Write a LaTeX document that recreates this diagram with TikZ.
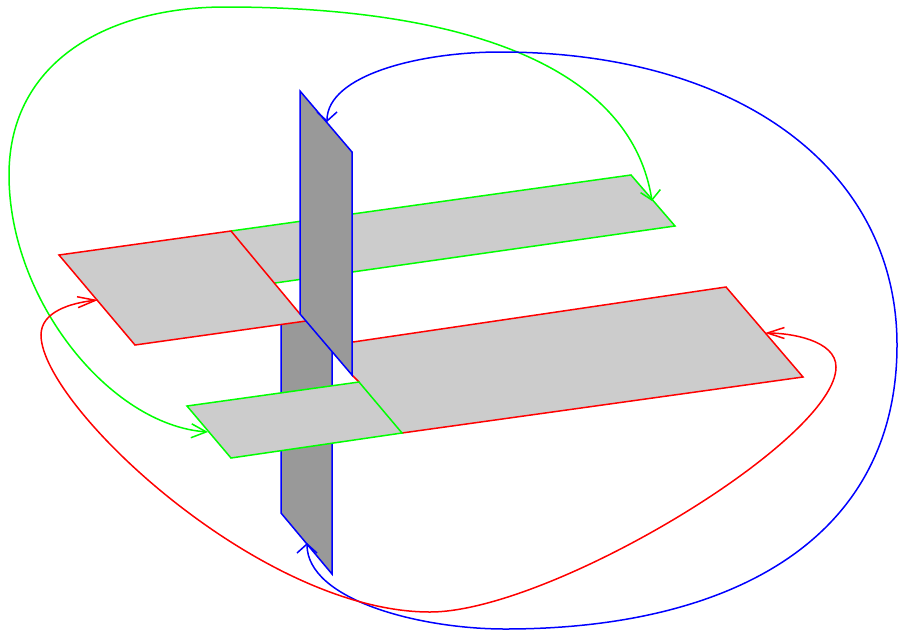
\documentclass[tikz,border=0pt]{standalone}
\usetikzlibrary{arrows.meta}
\definecolor{pure green}{rgb}{0,1,0}
\tikzset{
  planeb/.style={fill=black!40,draw=blue,line width=1.5pt},
  link/.style={line width=1.5pt},
}
\begin{document}
\begin{tikzpicture}[x=1pt,y=-1pt]
\useasboundingbox (0,0) rectangle (901,635);
% anchor points for the connectors
\coordinate (gA) at (208,432);
\coordinate (gB) at (652,201);
\coordinate (bA) at (327,122);
\coordinate (bB) at (307,543);
\coordinate (rA) at (98,300);
\coordinate (rB) at (765,333);
% lower part of the blue plane
\fill[black!40] (281,324) -- (306,320) -- (332,352) -- (332,574) -- (281,513) -- cycle;
\draw[blue,line width=1.5pt] (281,324) -- (281,513) -- (332,574) -- (332,351);
% back green plane
\path[fill=black!20] (231,231) -- (631,175) -- (675,226) -- (275,283) -- cycle;
\draw[pure green,line width=1.5pt] (231,231) -- (631,175) -- (675,226) -- (275,283);
% right red plane
\path[fill=black!20] (353,342) -- (726,287) -- (803,377) -- (402,433) -- (353,375) -- cycle;
\draw[red,line width=1.5pt] (353,342) -- (726,287) -- (803,377) -- (402,433) (352,375) -- (359,382);
% left red plane
\path[fill=black!20] (59,255) -- (231,231) -- (306,321) -- (135,345) -- cycle;
\draw[red,line width=1.5pt] (306,321) -- (135,345) -- (59,255) -- (231,231) -- (300,314);
% upper part of the blue plane
\draw[planeb] (300,91) -- (352,152) -- (352,375) -- (300,314) -- cycle;
% front green plane
\path[fill=black!20] (187,406) -- (359,382) -- (402,433) -- (231,458) -- cycle;
\draw[pure green,line width=1.5pt] (187,406) -- (359,382) -- (402,433) -- (231,458) -- cycle;
% connectors
\draw[link,pure green,{Straight Barb[length=15pt,width=14pt]}-{Straight Barb[length=9pt,width=20pt]}]
  (gA) .. controls (110,425) and (9,300) .. (9,175)
  .. controls (9,60) and (110,7) .. (225,7)
  .. controls (450,7) and (630,60) .. (gB);
\draw[link,blue,{Straight Barb[length=9pt,width=20pt]}-{Straight Barb[length=9pt,width=20pt]}]
  (bA) .. controls (327,75) and (420,52) .. (500,52)
  .. controls (740,52) and (897,170) .. (897,345)
  .. controls (897,540) and (730,629) .. (505,629)
  .. controls (420,629) and (307,600) .. (bB);
\draw[link,red,{Straight Barb[length=18pt,width=11pt]}-{Straight Barb[length=17pt,width=11pt]}]
  (rA) .. controls (70,303) and (41,312) .. (41,335)
  .. controls (41,405) and (260,612) .. (430,612)
  .. controls (550,612) and (836,440) .. (836,367)
  .. controls (836,340) and (790,333) .. (rB);
\end{tikzpicture}
\end{document}
